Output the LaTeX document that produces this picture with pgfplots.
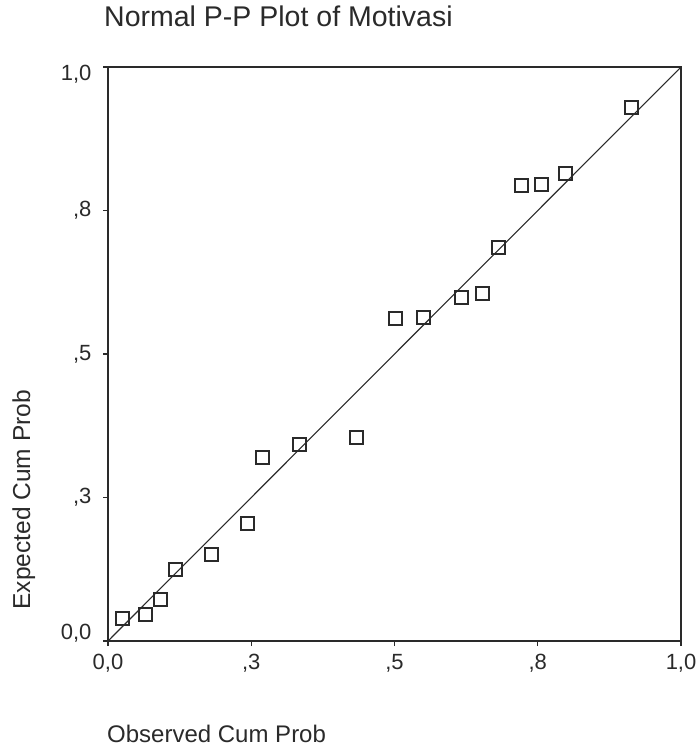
\documentclass[border=0pt]{standalone}
\usepackage{fontspec}
\setmainfont{Liberation Sans}
\usepackage{pgfplots}
\pgfplotsset{compat=1.18}
\definecolor{ink}{HTML}{2A2A2A}
\pgfdeclareplotmark{rsquare}{%
  \pgfsetcornersarced{\pgfpoint{0.4\pgfplotmarksize}{0.4\pgfplotmarksize}}%
  \pgfpathmoveto{\pgfpoint{\pgfplotmarksize}{0pt}}%
  \pgfpathlineto{\pgfpoint{\pgfplotmarksize}{\pgfplotmarksize}}%
  \pgfpathlineto{\pgfpoint{-\pgfplotmarksize}{\pgfplotmarksize}}%
  \pgfpathlineto{\pgfpoint{-\pgfplotmarksize}{-\pgfplotmarksize}}%
  \pgfpathlineto{\pgfpoint{\pgfplotmarksize}{-\pgfplotmarksize}}%
  \pgfpathclose
  \pgfusepathqstroke}
\begin{document}
\begin{tikzpicture}
\begin{axis}[
  scale only axis,
  width=573pt, height=574pt,
  xmin=0, xmax=1, ymin=0, ymax=1,
  clip=false,
  axis line style={ink, line width=1.4pt},
  tick style={ink, line width=1.3pt},
  tick align=outside,
  major tick length=5pt,
  xtick pos=bottom, ytick pos=left,
  xtick={0,0.25,0.5,0.75,1},
  ytick={0,0.25,0.5,0.75,1},
  xticklabels={{0,0},{,3},{,5},{,8},{1,0}},
  yticklabels={{\smash{\raisebox{2pt}{0,0}}},{,3},{,5},{,8},{\smash{\raisebox{-14pt}{1,0}}}},
  /pgf/number format/assume math mode=true,
  ticklabel style={font=\fontsize{22}{24}\selectfont, text=ink},
  xticklabel style={yshift=-5pt},
  yticklabel style={xshift=-8pt},
  title={Normal P-P Plot of Motivasi},
  title style={at={(rel axis cs:0,1)}, anchor=base west, xshift=-4pt, yshift=34pt, font=\fontsize{28.5}{32}\selectfont, text=ink, inner sep=0pt},
  xlabel={Observed Cum Prob},
  xlabel style={at={(rel axis cs:0,0)}, anchor=base west, xshift=-1pt, yshift=-101pt, font=\fontsize{24}{28}\selectfont, text=ink, inner sep=0pt},
  ylabel={Expected Cum Prob},
  ylabel style={at={(rel axis cs:-0.136,0.246)}, anchor=base, font=\fontsize{24.5}{28}\selectfont, text=ink, inner sep=0pt},
]
\addplot[ink, line width=1.1pt, no marks] coordinates {(0,0) (1,1)};
\addplot[only marks, mark=rsquare, mark size=6.5pt,
  mark options={ink, line width=2pt, fill=none}]
coordinates {
(0.026,0.040) (0.066,0.047) (0.091,0.073) (0.117,0.125) (0.180,0.150)
(0.244,0.204) (0.269,0.319) (0.335,0.343) (0.433,0.354) (0.501,0.561)
(0.551,0.564) (0.616,0.599) (0.654,0.606) (0.682,0.686) (0.721,0.793)
(0.756,0.796) (0.798,0.814) (0.913,0.929)
};
\path (axis cs:-0.1885,-0.1916) rectangle (axis cs:1.0314,1.1167);
\end{axis}
\end{tikzpicture}
\end{document}
